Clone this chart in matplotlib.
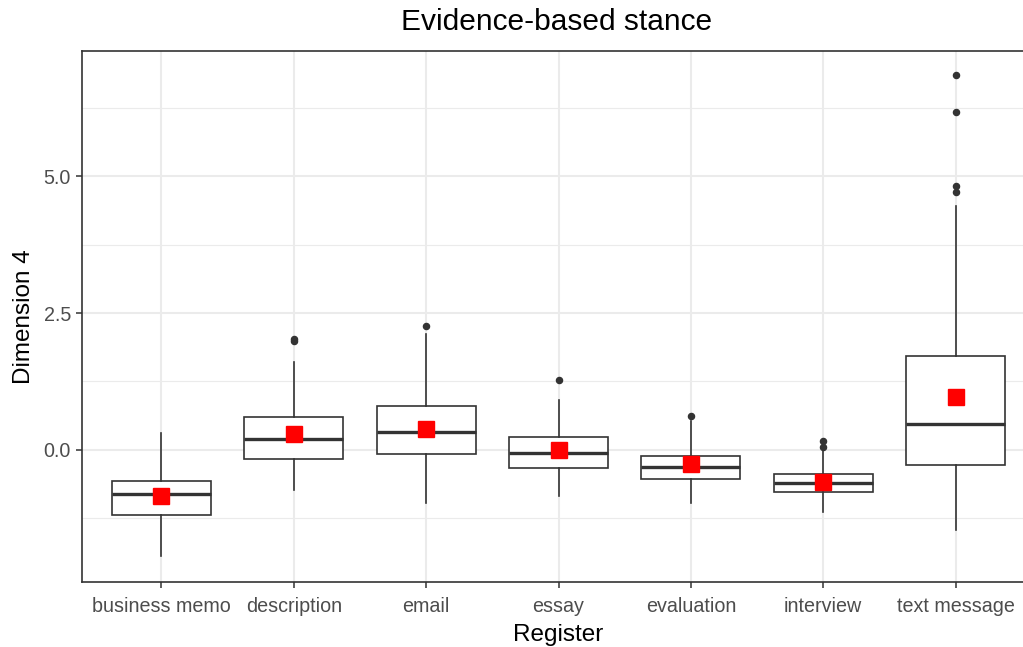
import matplotlib
matplotlib.use("Agg")
import matplotlib.pyplot as plt
from matplotlib.ticker import FixedLocator

plt.rcParams["font.family"] = ["Liberation Sans", "DejaVu Sans"]

# --- data ------------------------------------------------------------------
registers = ["business memo", "description", "email", "essay",
             "evaluation", "interview", "text message"]
whisker_low = [-1.93, -0.74, -0.97, -0.85, -0.97, -1.14, -1.46]
q1 = [-1.19, -0.17, -0.08, -0.33, -0.54, -0.77, -0.28]
median = [-0.80, 0.19, 0.33, -0.06, -0.32, -0.60, 0.48]
q3 = [-0.56, 0.60, 0.80, 0.23, -0.11, -0.45, 1.72]
whisker_high = [0.30, 1.61, 2.12, 0.92, 0.52, 0.00, 4.46]
means = [-0.84, 0.29, 0.39, -0.01, -0.26, -0.58, 0.96]
outliers = [
    [],
    [1.98, 2.03],
    [2.27],
    [1.28],
    [0.62],
    [0.06, 0.17],
    [4.71, 4.82, 6.17, 6.85],
]

# --- plot -------------------------------------------------------------------
GRID = "#EBEBEB"
INK = "#333333"

fig = plt.figure(figsize=(10.23, 6.47), dpi=100)
# panel runs off the right edge, as in the reference crop
ax = fig.add_axes([82 / 1023, 1 - 582 / 647, (1035 - 82) / 1023, (582 - 51) / 647])

stats = [
    {"whislo": lo, "q1": a, "med": m, "q3": b, "whishi": hi, "fliers": f}
    for lo, a, m, b, hi, f in zip(whisker_low, q1, median, q3, whisker_high, outliers)
]
pos = list(range(1, len(registers) + 1))
line = dict(color=INK, linewidth=1.2)
ax.bxp(
    stats,
    positions=pos,
    widths=0.75,
    showcaps=False,
    patch_artist=True,
    boxprops=dict(facecolor="white", edgecolor=INK, linewidth=1.2),
    whiskerprops=line,
    medianprops=dict(color=INK, linewidth=2.4, solid_capstyle="butt"),
    flierprops=dict(marker="o", markersize=4.4, markerfacecolor=INK,
                    markeredgecolor=INK),
    zorder=3,
)
ax.plot(pos, means, linestyle="none", marker="s", markersize=11,
        color="red", zorder=5)

ax.set_xlim(0.4, 7.6)
ax.set_ylim(-2.414, 7.287)
ax.set_xticks(pos)
ax.set_xticklabels(registers)
ax.yaxis.set_major_locator(FixedLocator([0.0, 2.5, 5.0]))
ax.set_yticklabels(["0.0", "2.5", "5.0"])
ax.yaxis.set_minor_locator(FixedLocator([-1.25, 1.25, 3.75, 6.25]))

ax.grid(True, which="major", color=GRID, linewidth=1.5, zorder=0)
ax.grid(True, which="minor", axis="y", color=GRID, linewidth=0.8, zorder=0)
ax.set_axisbelow(True)
ax.tick_params(which="major", length=4, width=1.1, color=INK,
               labelsize=14.2, labelcolor="#4D4D4D")
ax.tick_params(axis="x", pad=6.5)
ax.tick_params(axis="y", pad=4)
ax.tick_params(which="minor", length=0)
for s in ax.spines.values():
    s.set_color(INK)
    s.set_linewidth(1.2)

ax.set_xlabel("Register", fontsize=17.5, labelpad=6)
ax.set_ylabel("Dimension 4", fontsize=17.5, labelpad=6)
fig.text(557 / 1023, 1 - 22 / 647, "Evidence-based stance", fontsize=21.5,
         ha="center", va="center")

fig.savefig("out.png", dpi=100)
